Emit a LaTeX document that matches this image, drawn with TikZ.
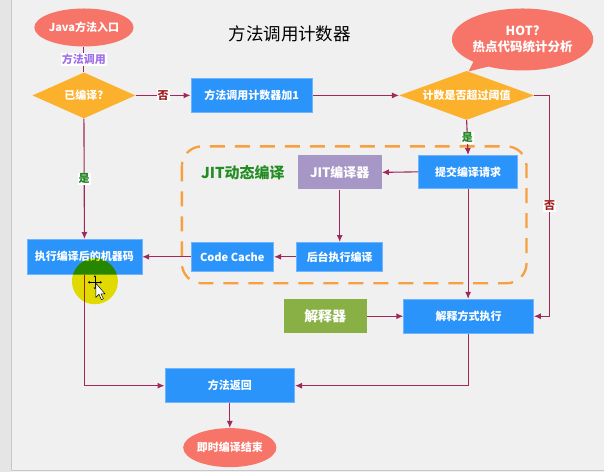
\documentclass[tikz,border=0pt]{standalone}
\usepackage{fontspec}
\setmainfont{Noto Sans CJK SC}
\usetikzlibrary{shapes.geometric,shapes.callouts,arrows.meta}
\definecolor{bgc}{HTML}{F0F0F0}
\definecolor{link}{RGB}{160,40,90}
\definecolor{bluebox}{RGB}{42,148,250}
\definecolor{blueedge}{RGB}{110,180,255}
\definecolor{orangeD}{RGB}{251,177,43}
\definecolor{salmon}{RGB}{247,116,104}
\definecolor{lav}{RGB}{166,151,199}
\definecolor{grn}{RGB}{137,176,68}
\definecolor{dashor}{RGB}{248,160,64}
\definecolor{jitgreen}{RGB}{35,140,35}
\definecolor{yesgreen}{RGB}{30,130,30}
\definecolor{nored}{RGB}{160,30,30}
\definecolor{purp}{RGB}{160,112,232}
\begin{document}
\begin{tikzpicture}[x=1pt,y=-1pt,
  txt/.style={font=\fontsize{11}{13}\selectfont\bfseries, text=white},
  bbox/.style={txt, rectangle, fill=bluebox, draw=blueedge, line width=0.6pt, inner sep=0pt},
  dia/.style={txt, diamond, fill=orangeD, inner sep=0pt, aspect=2.5},
  oval/.style={txt, ellipse, fill=salmon, inner sep=0pt},
  conn/.style={draw=link, line width=1.1pt},
  arr/.style={conn, -{Latex[length=7pt,width=6pt]}},
  lab/.style={fill=white, inner sep=1pt, font=\fontsize{11}{13}\selectfont\bfseries}
]
% background and window frame
\fill[bgc] (0,0) rectangle (604,472);
\fill[black!10] (0,0) rectangle (11,472);
\draw[black!22, line width=1pt] (11.5,0) -- (11.5,470.5) -- (604,470.5);
\useasboundingbox (0,0) rectangle (604,472);

% title
\node (title) at (290,33) {\fontsize{17.5}{20}\selectfont 方法调用计数器};

% dashed JIT frame
\draw[dashor, line width=2.3pt, dash pattern=on 15pt off 10pt, rounded corners=20pt]
  (182,146) rectangle (527,283);
\node[font=\fontsize{15}{18}\selectfont\bfseries, text=jitgreen] (jitlab) at (243,172) {JIT动态编译};

% nodes
\node[oval, minimum width=84pt, minimum height=38pt] (entry) at (84,27) {Java方法入口};
\node[dia, minimum width=103pt, minimum height=46pt] (comp) at (84,95) {已编译?};
\node[bbox, minimum width=122pt, minimum height=34pt] (inc) at (252,95) {方法调用计数器加1};
\node[dia, minimum width=135pt, minimum height=49pt] (thr) at (467,95) {计数是否超过阈值};
\node[txt, ellipse callout, fill=salmon, inner sep=0pt, minimum width=112pt, minimum height=62pt,
      callout absolute pointer={(469,71)}, align=center,
      font=\fontsize{12.5}{16}\selectfont\bfseries] (hot) at (523,39) {HOT?\\热点代码统计分析};
\node[bbox, minimum width=99pt, minimum height=33pt] (submit) at (468.5,171.5) {提交编译请求};
\node[txt, rectangle, fill=lav, inner sep=0pt, minimum width=84pt, minimum height=34pt,
      font=\fontsize{13}{15}\selectfont\bfseries] (jitc) at (340,172) {JIT编译器};
\node[bbox, minimum width=86pt, minimum height=29pt] (bgc) at (340,256.5) {后台执行编译};
\node[bbox, minimum width=83pt, minimum height=29pt] (cc) at (232.5,256.5) {Code Cache};
\node[bbox, minimum width=115pt, minimum height=35pt] (mc) at (84.5,256.5) {执行编译后的机器码};
\node[txt, rectangle, fill=grn, inner sep=0pt, minimum width=83pt, minimum height=34pt,
      font=\fontsize{14}{16}\selectfont\bfseries] (interp) at (325.5,316) {解释器};
\node[bbox, minimum width=130pt, minimum height=34pt] (iexec) at (469,316) {解释方式执行};
\node[bbox, minimum width=130pt, minimum height=34pt] (ret) at (230,385.5) {方法返回};
\node[oval, minimum width=82pt, minimum height=39pt] (endn) at (230,447.5) {即时编译结束};

% connectors
\draw[conn] (entry) -- node[lab, text=purp] {方法调用} (comp);
\draw[arr] (comp.east) -- node[lab, text=nored] {否} (inc.west);
\draw[arr] (inc.east) -- (thr.west);
\draw[arr] (thr.south) -- node[lab, text=yesgreen] {是} (submit.north);
\coordinate (rt) at (550,95);
\draw[arr] (thr.east) -- (rt) |- node[lab, text=nored, pos=0.25] {否} (iexec.east);
\draw[arr] (submit.west) -- (jitc.east);
\draw[arr] (jitc.south) -- (bgc.north);
\draw[arr] (bgc.west) -- (cc.east);
\draw[arr] (cc.west) -- (mc.east);
\draw[arr] (comp.south) -- node[lab, text=yesgreen] {是} (mc.north);
\draw[arr] (mc.south) |- (ret.west);
\draw[arr] (submit.south) -- (submit.south |- iexec.north);
\draw[arr] (interp.east) -- (iexec.west);
\draw[arr] (iexec.south) |- (ret.east);
\draw[arr] (ret.south) -- (endn.north);

% cursor highlight
\fill[blend mode=multiply, fill={rgb,255:red,240;green,232;blue,0}] (95,281) circle (23pt);
\draw[black, line width=0.6pt, <->, >={Stealth[length=2pt,width=2.5pt]}] (88,282) -- (102,282);
\draw[black, line width=0.6pt, <->, >={Stealth[length=2pt,width=2.5pt]}] (95,275) -- (95,289);
\filldraw[fill=white, draw=black, line width=0.5pt]
  (96,283) -- (96,297) -- (99,294) -- (101.5,299.5) -- (103.5,298.5) -- (101,293.5) -- (105,293.5) -- cycle;
\end{tikzpicture}
\end{document}
